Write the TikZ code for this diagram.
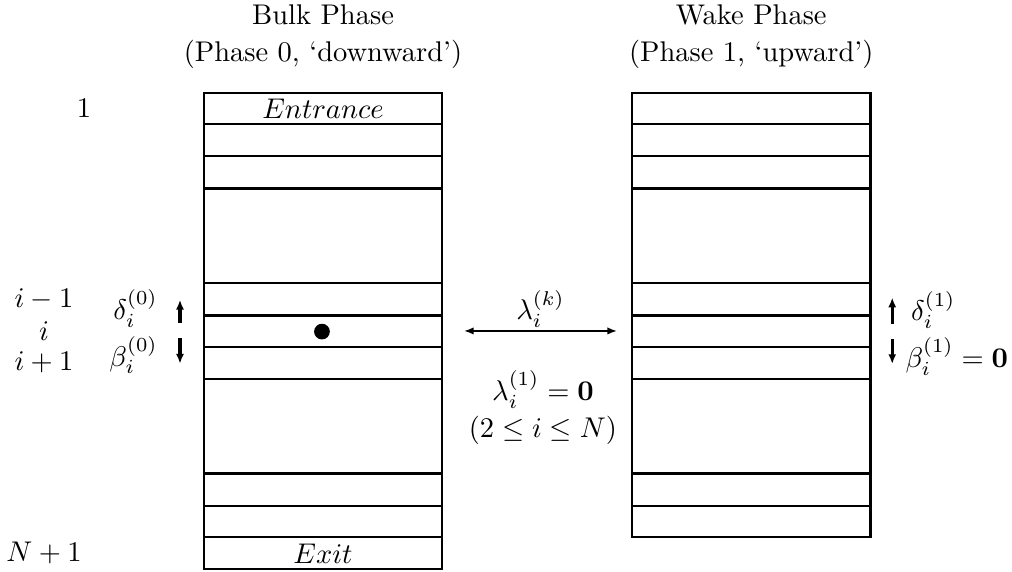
\documentclass[tikz,border=0pt]{standalone}
\usepackage{amsmath,amssymb}
\usepackage{xcolor}
\usepackage{tikz}
\usetikzlibrary{arrows.meta,positioning}

\begin{document}
\begin{tikzpicture}[x=1cm, y=0.392cm,
    rung/.style={line width=0.7pt},
    heavy/.style={line width=1.05pt},
    flux/.style={line width=1.1pt, -{Latex[length=3.4pt,width=2.8pt]}},
    trade/.style={line width=0.55pt, {Latex[length=3.4pt,width=2.6pt]}-{Latex[length=3.4pt,width=2.6pt]}}]
    \useasboundingbox (0,2.918) rectangle (12.488,-15.087);

    \node[align=center] (bulk) at (3.986,1.77) {Bulk Phase\\[0.8pt](Phase 0, ‘downward’)};
    \node[align=center] (wake) at (9.27,1.77) {Wake Phase\\[0.8pt](Phase 1, ‘upward’)};

    \draw[rung] (2.517,0) rectangle (5.454,-15);
    \draw[rung] (2.517,-1) -- (5.454,-1);
    \draw[rung] (2.517,-2) -- (5.454,-2);
    \draw[heavy] (2.517,-3) -- (5.454,-3);
    \draw[rung] (2.517,-6) -- (5.454,-6);
    \draw[heavy] (2.517,-7) -- (5.454,-7);
    \draw[rung] (2.517,-8) -- (5.454,-8);
    \draw[rung] (2.517,-9) -- (5.454,-9);
    \draw[heavy] (2.517,-12) -- (5.454,-12);
    \draw[rung] (2.517,-13) -- (5.454,-13);
    \draw[rung] (2.517,-14) -- (5.454,-14);
    \node (entrance) at (3.986,-0.5) {$Entrance$};
    \node (exit) at (3.986,-14.5) {$Exit$};
    \fill (3.973,-7.52) circle (0.097cm);

    \draw[rung] (7.799,0) rectangle (10.744,-14);
    \draw[heavy] (10.744,0) -- (10.744,-14);
    \draw[rung] (7.799,-1) -- (10.744,-1);
    \draw[rung] (7.799,-2) -- (10.744,-2);
    \draw[heavy] (7.799,-3) -- (10.744,-3);
    \draw[rung] (7.799,-6) -- (10.744,-6);
    \draw[heavy] (7.799,-7) -- (10.744,-7);
    \draw[rung] (7.799,-8) -- (10.744,-8);
    \draw[rung] (7.799,-9) -- (10.744,-9);
    \draw[heavy] (7.799,-12) -- (10.744,-12);
    \draw[rung] (7.799,-13) -- (10.744,-13);

    \node (first) at (1.037,-0.5) {$1$};
    \node (prev) at (0.543,-6.5) {$i-1$};
    \node (cur) at (0.543,-7.5) {$i$};
    \node (next) at (0.543,-8.5) {$i+1$};
    \node (last) at (0.543,-14.5) {$N+1$};

    \coordinate (upLa) at (2.221,-7.25);
    \coordinate (upLb) at (2.221,-6.52);
    \coordinate (dnLa) at (2.221,-7.72);
    \coordinate (dnLb) at (2.221,-8.53);
    \draw[flux] (upLa) -- (upLb);
    \draw[flux] (dnLa) -- (dnLb);
    \node[anchor=east] (delta0) at (2.07,-6.79) {$\delta_i^{(0)}$};
    \node[anchor=east] (beta0) at (2.07,-8.26) {$\beta_i^{(0)}$};

    \coordinate (upRa) at (11.01,-7.28);
    \coordinate (upRb) at (11.01,-6.45);
    \coordinate (dnRa) at (11.01,-7.75);
    \coordinate (dnRb) at (11.01,-8.54);
    \draw[flux] (upRa) -- (upRb);
    \draw[flux] (dnRa) -- (dnRb);
    \node[anchor=west] (delta1) at (11.12,-6.84) {$\delta_i^{(1)}$};
    \node[anchor=west] (beta1) at (11.05,-8.3) {$\beta_i^{(1)}=\mathbf{0}$};

    \coordinate (lamL) at (5.726,-7.5);
    \coordinate (lamR) at (7.614,-7.5);
    \draw[trade] (lamL) -- (lamR) node[midway, above, inner sep=0.8pt] (lamk) {$\lambda_i^{(k)}$};
    \node[align=center] (lamone) at (6.7,-9.91) {$\lambda_i^{(1)}=\mathbf{0}$\\[1pt]$(2\le i\le N)$};
  \end{tikzpicture}
\end{document}
